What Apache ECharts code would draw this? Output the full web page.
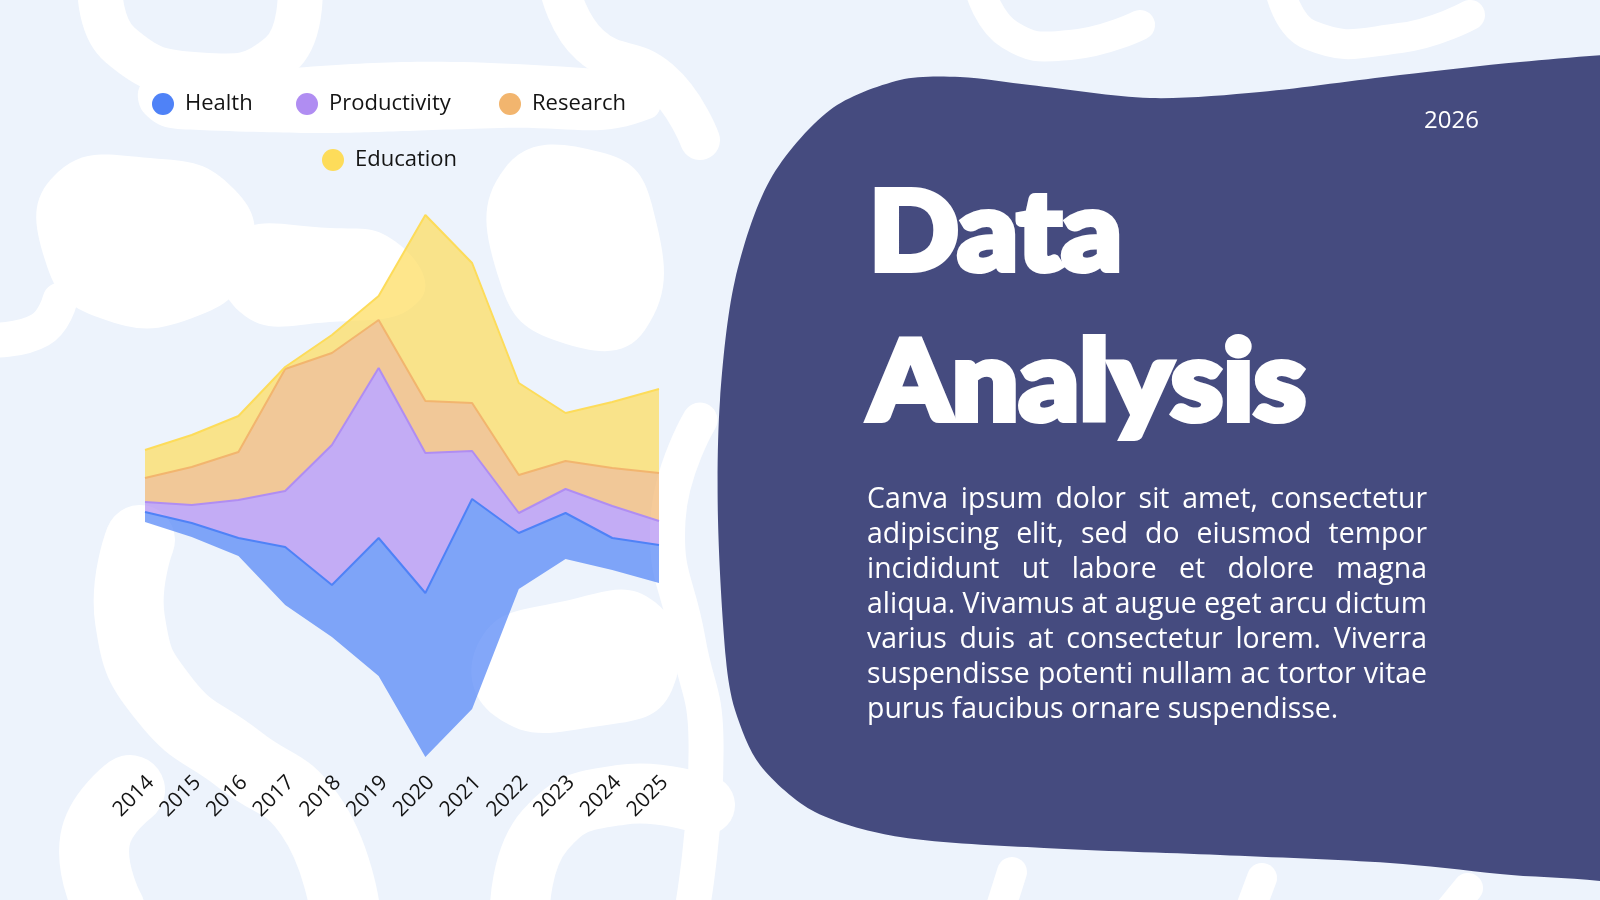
<!DOCTYPE html>
<html>
<head>
<meta charset="utf-8">
<title>Data Analysis</title>
<script src="https://cdn.jsdelivr.net/npm/echarts@6/dist/echarts.min.js"></script>
<style>
    html, body { margin: 0; padding: 0; background: #edf3fc; }
    #main { width: 1600px; height: 900px; }
</style>
</head>
<body>
<div id="main"></div>
<script>
var years = ['2014', '2015', '2016', '2017', '2018', '2019', '2020', '2021', '2022', '2023', '2024', '2025'];
var health       = [5, 7, 9, 29, 26, 69, 82, 105, 28, 23, 16, 19];
var productivity = [5, 9, 19, 28, 70, 85, 70, 24, 10, 12, 16, 12];
var research     = [12, 19, 24, 61, 46, 24, 26, 24, 19, 14, 19, 24];
var education    = [14, 16, 18, 1, 9, 12, 93, 70, 46, 24, 33, 42];
var layerNames = ['Health', 'Productivity', 'Research', 'Education'];
var layerColors = ['#4f82f7', '#b08df2', '#f2b56e', '#fddc5a'];

var yearLabel = '2026';
var titleLines = ['Data', 'Analysis'];
var bodyLines = [
    'Canva ipsum dolor sit amet, consectetur',
    'adipiscing elit, sed do eiusmod tempor',
    'incididunt ut labore et dolore magna',
    'aliqua. Vivamus at augue eget arcu dictum',
    'varius duis at consectetur lorem. Viverra',
    'suspendisse potenti nullam ac tortor vitae',
    'purus faucibus ornare suspendisse.'
];

var chart = echarts.init(document.getElementById('main'));

// stream graph: an invisible base series keeps every column centred
var totals = years.map(function (y, i) {
    return health[i] + productivity[i] + research[i] + education[i];
});
var maxTotal = Math.max.apply(null, totals);
var baseline = totals.map(function (t) { return (maxTotal - t) / 2; });

var ctx = document.createElement('canvas').getContext('2d');
function textWidth(str, font) {
    ctx.font = font;
    return ctx.measureText(str).width;
}
function baselineShift(font) {
    ctx.font = font;
    ctx.textBaseline = 'middle';
    var d = ctx.measureText('H').actualBoundingBoxDescent;
    ctx.textBaseline = 'alphabetic';
    return d;
}

function layer(name, data, color) {
    return {
        name: name,
        type: 'line',
        stack: 'river',
        data: data,
        symbol: 'none',
        color: color,
        lineStyle: { width: 2, color: color },
        areaStyle: { color: color, opacity: 0.7 },
        emphasis: { disabled: true }
    };
}

// background: white blobs and bands on pale blue
var blobs = [
    [[55, 175], [150, 158], [235, 190], [250, 260], [200, 315], [100, 318], [45, 260]],
    [[230, 238], [330, 228], [400, 245], [420, 300], [330, 322], [240, 312]],
    [[505, 168], [600, 152], [652, 205], [645, 330], [560, 342], [500, 282]],
    [[150, 80], [640, 72], [652, 118], [500, 128], [200, 130], [145, 114]],
    [[480, 640], [560, 602], [655, 602], [672, 690], [600, 726], [495, 716]]
];
var bands = [
    { w: 45, p: [[100, -10], [120, 45], [200, 75], [280, 55], [300, -10]] },
    { w: 40, p: [[560, -10], [590, 45], [660, 80], [700, 140]] },
    { w: 70, p: [[140, 540], [130, 620], [165, 700], [240, 760], [310, 815], [345, 910]] },
    { w: 70, p: [[110, 910], [95, 840], [130, 790]] },
    { w: 60, p: [[520, 910], [545, 830], [620, 795], [705, 805]] },
    { w: 35, p: [[-10, 340], [40, 330], [60, 300]] },
    { w: 35, p: [[700, 420], [668, 520], [688, 640], [706, 740], [692, 910]] },
    { w: 30, p: [[980, -10], [1010, 35], [1070, 45], [1140, 25]] },
    { w: 30, p: [[1280, -10], [1310, 35], [1400, 38], [1470, 15]] },
    { w: 30, p: [[1000, 910], [1012, 872]] },
    { w: 30, p: [[1250, 910], [1262, 878]] },
    { w: 30, p: [[1450, 910], [1468, 888]] }
];

var graphics = [];
blobs.forEach(function (b) {
    graphics.push({
        type: 'polygon',
        silent: true,
        z: -10,
        shape: { points: b, smooth: 0.5 },
        style: { fill: '#ffffff' }
    });
});
bands.forEach(function (s) {
    graphics.push({
        type: 'polyline',
        silent: true,
        z: -10,
        shape: { points: s.p, smooth: 0.5 },
        style: { stroke: '#ffffff', lineWidth: s.w, lineCap: 'round', fill: null }
    });
});

// dark panel on the right (outline points, far corners pushed off canvas)
var panelOutline = [
    [726, 660], [718, 520], [720, 400], [735, 280], [770, 180], [830, 110], [900, 80],
    [960, 77], [1030, 85], [1150, 98], [1260, 92], [1400, 75], [1520, 62], [1650, 52],
    [1750, 50], [1750, 950], [1650, 890], [1500, 874], [1390, 863], [1220, 855],
    [1044, 848], [900, 837], [815, 812], [760, 765], [735, 710]
];
graphics.push({
    type: 'polygon',
    silent: true,
    z: -5,
    shape: { points: panelOutline, smooth: 0.3 },
    style: { fill: '#454b7f' }
});

graphics.push({
    type: 'text',
    x: 1479,
    y: 121,
    style: {
        text: yearLabel, fill: '#ffffff', fontSize: 24, fontFamily: 'Open Sans',
        align: 'right', verticalAlign: 'middle'
    }
});

// title: heavy, slightly condensed
var titleSize = 110, titleStroke = 6;
var titleFont = '900 ' + titleSize + 'px Lato';
var titleScale = (443 - titleStroke) / textWidth('Analysis', titleFont);
var titleShift = baselineShift(titleFont);
[273, 423].forEach(function (base, i) {
    graphics.push({
        type: 'text',
        x: 866 + titleStroke / 2,
        y: base - titleStroke / 2 - titleShift,
        scaleX: titleScale,
        style: {
            text: titleLines[i], fill: '#ffffff', stroke: '#ffffff', lineWidth: titleStroke,
            lineJoin: 'round', fontSize: titleSize, fontWeight: 900,
            fontFamily: 'Lato', align: 'left', verticalAlign: 'middle'
        }
    });
});

// justified paragraph
var bodyLeft = 867, bodyWidth = 560, bodyTop = 500, bodyStep = 35;
var bodySize = 24 * bodyWidth / textWidth(bodyLines[3], '500 24px "Open Sans"');
var bodyFont = '500 ' + bodySize + 'px "Open Sans"';
bodyLines.forEach(function (line, li) {
    var words = line.split(' ');
    var widths = words.map(function (w) { return textWidth(w, bodyFont); });
    var used = widths.reduce(function (a, b) { return a + b; }, 0);
    var last = li === bodyLines.length - 1;
    var gap = last ? textWidth(' ', bodyFont) : (bodyWidth - used) / (words.length - 1);
    var x = bodyLeft;
    words.forEach(function (w, wi) {
        graphics.push({
            type: 'text',
            x: x,
            y: bodyTop + li * bodyStep,
            style: {
                text: w, fill: '#ffffff', fontSize: bodySize, fontWeight: 500,
                fontFamily: 'Open Sans', align: 'left', verticalAlign: 'middle'
            }
        });
        x += widths[wi] + gap;
    });
});

var legendSpots = [[147, 88], [291, 88], [494, 88], [317, 144]];

var option = {
    backgroundColor: '#edf3fc',
    animation: false,
    legend: layerNames.map(function (n, i) {
        return {
            data: [n],
            left: legendSpots[i][0],
            top: legendSpots[i][1],
            icon: 'circle',
            itemWidth: 22,
            itemHeight: 22,
            textStyle: { fontSize: 22, color: '#141414', fontFamily: 'Open Sans', padding: [0, 0, 0, 6] }
        };
    }),
    grid: { left: 145, right: 941, top: 215, bottom: 143 },
    xAxis: {
        type: 'category',
        data: years,
        boundaryGap: false,
        axisLine: { show: false },
        axisTick: { show: false },
        axisLabel: {
            rotate: 45, margin: 28, fontSize: 21, color: '#141414', fontFamily: 'Open Sans',
            padding: [0, -8, 0, 0]
        }
    },
    yAxis: {
        type: 'value',
        min: 0,
        max: maxTotal,
        show: false
    },
    graphic: graphics,
    series: [{
        name: 'base',
        type: 'line',
        stack: 'river',
        data: baseline,
        symbol: 'none',
        lineStyle: { opacity: 0 },
        silent: true
    },
        layer(layerNames[0], health, layerColors[0]),
        layer(layerNames[1], productivity, layerColors[1]),
        layer(layerNames[2], research, layerColors[2]),
        layer(layerNames[3], education, layerColors[3])
    ]
};

chart.setOption(option);
</script>
</body>
</html>
